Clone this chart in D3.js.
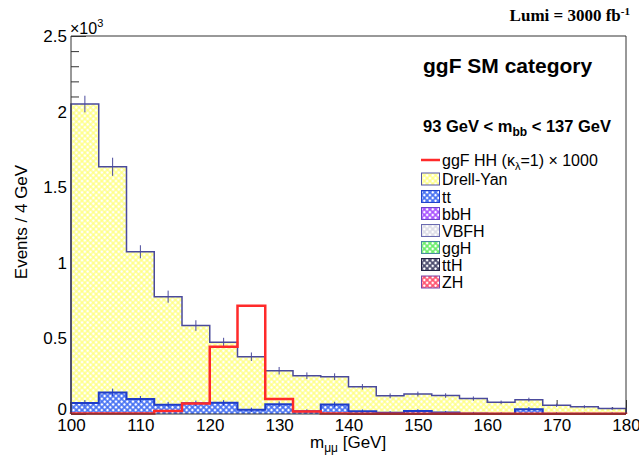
<!DOCTYPE html>
<html>
<head>
<meta charset="utf-8">
<script src="https://cdn.jsdelivr.net/npm/d3@7/dist/d3.min.js"></script>
<style>
  html, body { margin: 0; padding: 0; background: #fff; }
  svg { display: block; font-family: Arial, "Liberation Sans", Helvetica, sans-serif; }
</style>
</head>
<body>
<svg id="chart" width="639" height="456"></svg>
<script>
// ---- data ----
const binLow = [100,104,108,112,116,120,124,128,132,136,140,144,148,152,156,160,164,168,172,176];
const binWidth = 4;
const drellYan = [1978,1492,974,714,514,400,351,221,234,184,162,112,112,112,98,75,63,56,47,35];
const ttbar    = [72,143,99,62,71,74,28,65,19,63,18,8,20,10,4,2,32,2,1,1];
const totalErr = [55,60,43,40,35,30,28,25,22,22,18,16,16,15,14,12,13,11,10,9];
const ttErr    = [20,25,20,18,18,18,14,18,12,18,12,10,12,10,10,10,14,10,10,10];
const hhSignal = [4,4,4,20,70,445,716,100,16,3,2,2,2,2,2,2,2,2,2,2];
const yMajorTicks = [0,500,1000,1500,2000,2500];
const yTickLabels = ["0","0.5","1","1.5","2","2.5"];
const xMajorTicks = [100,110,120,130,140,150,160,170,180];
const legendNames = ["ggF HH (\u03BA\u03BB=1) \u00D7 1000","Drell-Yan","tt","bbH","VBFH","ggH","ttH","ZH"];
const legendColors = ["#ff2a2a","#ffff7a","#3f6cf2","#a64dff","#dcdce6","#66ee66","#444466","#ff4d6a"];
const legendBorders = ["#ff2a2a","#5656a8","#2244cc","#6a44cc","#6a6ab0","#4a8aa0","#222244","#7a44aa"];

// ---- layout ----
const svg = d3.select("#chart");
const x = d3.scaleLinear().domain([100,180]).range([71,626]);
const y = d3.scaleLinear().domain([0,2500]).range([414,36]);

const defs = svg.append("defs");
function hatch(id, color, hole, h) {
  const p = defs.append("pattern").attr("id", id)
    .attr("patternUnits","userSpaceOnUse").attr("width",4).attr("height",4)
    .attr("patternTransform","rotate(45)");
  p.append("rect").attr("width",4).attr("height",4).attr("fill",color);
  p.append("rect").attr("x",(4-h)/2).attr("y",(4-h)/2).attr("width",h).attr("height",h).attr("fill",hole);
}
legendColors.forEach((c,i) => hatch("pat"+i, c, "#ffffff", i === 1 ? 2.7 : 2.4));

// ---- axes (drawn first, fills go on top like ROOT) ----
const yMinor = d3.range(0, 2501, 100);
svg.append("g").attr("transform",`translate(${x(100)},0)`)
  .call(d3.axisRight(y).tickValues(yMinor).tickSize(8).tickFormat(""))
  .call(g => g.select(".domain").remove())
  .call(g => g.selectAll("line").attr("stroke","#333"));
const yAxis = svg.append("g").attr("transform",`translate(${x(100)},0)`)
  .call(d3.axisRight(y).tickValues(yMajorTicks).tickSize(15).tickFormat((d,i)=>yTickLabels[i]))
  .call(g => g.select(".domain").remove());
yAxis.selectAll("line").attr("stroke","#333");
yAxis.selectAll("text").attr("x",-4).attr("text-anchor","end").attr("font-size",17)
  .attr("fill","#000").attr("font-family","Arial, 'Liberation Sans', sans-serif");
yAxis.selectAll("text").filter(d => d === 0).attr("dy","0.05em");

const xMinor = d3.range(100, 181, 2);
svg.append("g").attr("transform",`translate(0,${y(0)})`)
  .call(d3.axisTop(x).tickValues(xMinor).tickSize(7).tickFormat(""))
  .call(g => g.select(".domain").remove())
  .call(g => g.selectAll("line").attr("stroke","#333"));
const xAxis = svg.append("g").attr("transform",`translate(0,${y(0)})`)
  .call(d3.axisTop(x).tickValues(xMajorTicks).tickSize(14).tickFormat(d3.format("d")))
  .call(g => g.select(".domain").remove());
xAxis.selectAll("line").attr("stroke","#333");
xAxis.selectAll("text").attr("y",17).attr("dy","0").attr("font-size",17).attr("fill","#000")
  .attr("font-family","Arial, 'Liberation Sans', sans-serif");

// ---- stacked histogram ----
const rows = binLow.map((b,i) => ({lo:b, dy:drellYan[i], tt:ttbar[i]}));
const stack = d3.stack().keys(["tt","dy"])(rows);
function stepPts(layer) {
  const pts = layer.map((d,i) => ({xv: binLow[i], y0: d[0], y1: d[1]}));
  const last = layer[layer.length-1];
  pts.push({xv: binLow[binLow.length-1]+binWidth, y0: last[0], y1: last[1]});
  return pts;
}
const area = d3.area().curve(d3.curveStepAfter)
  .x(d => x(d.xv)).y0(d => y(0)).y1(d => y(d.y1));

// Drell-Yan (total) fill
const totPts = stepPts(stack[1]);
svg.append("path").attr("d", area(totPts)).attr("fill","url(#pat1)");
// tt fill over white
const ttPts = stepPts(stack[0]);
svg.append("path").attr("d", area(ttPts)).attr("fill","#ffffff");
svg.append("path").attr("d", area(ttPts)).attr("fill","url(#pat2)");

const stepLine = d3.line().curve(d3.curveStepAfter).x(d => x(d.xv)).y(d => y(d.v));
function outlinePts(vals) {
  const pts = [{xv:100, v:0}];
  vals.forEach((v,i) => pts.push({xv: binLow[i], v}));
  pts.push({xv: 180, v: vals[vals.length-1]});
  pts.push({xv: 180, v: 0});
  return pts;
}
// tt outline
svg.append("path").attr("d", stepLine(outlinePts(stack[0].map(d=>d[1]))))
  .attr("fill","none").attr("stroke","#1f3cc8").attr("stroke-width",2);
// tt error bars
svg.append("g").selectAll("line").data(ttbar).join("line")
  .attr("x1",(d,i)=>x(binLow[i]+binWidth/2)).attr("x2",(d,i)=>x(binLow[i]+binWidth/2))
  .attr("y1",(d,i)=>y(Math.max(0,d-ttErr[i]))).attr("y2",(d,i)=>y(d+ttErr[i]))
  .attr("stroke","#1f3cc8").attr("stroke-width",1);

// total outline
const totals = stack[1].map(d=>d[1]);
svg.append("path").attr("d", stepLine(outlinePts(totals)))
  .attr("fill","none").attr("stroke","#4a4a9c").attr("stroke-width",1.5);
// total error bars
svg.append("g").selectAll("line").data(totals).join("line")
  .attr("x1",(d,i)=>x(binLow[i]+binWidth/2)).attr("x2",(d,i)=>x(binLow[i]+binWidth/2))
  .attr("y1",(d,i)=>y(d-totalErr[i])).attr("y2",(d,i)=>y(d+totalErr[i]))
  .attr("stroke","#4a4a9c").attr("stroke-width",1);

// signal (HH x 1000)
svg.append("path").attr("d", stepLine(outlinePts(hhSignal)))
  .attr("fill","none").attr("stroke","#ff2a2a").attr("stroke-width",2.5);

// ---- frame ----
svg.append("line").attr("x1",x(100)).attr("x2",x(180)).attr("y1",y(2500)).attr("y2",y(2500)).attr("stroke","#333");
svg.append("line").attr("x1",x(180)).attr("x2",x(180)).attr("y1",y(2500)).attr("y2",y(0)).attr("stroke","#333");
svg.append("line").attr("x1",x(100)).attr("x2",x(100)).attr("y1",y(2500)).attr("y2",y(0)).attr("stroke","#333");
svg.append("line").attr("x1",x(100)).attr("x2",x(180)).attr("y1",y(0)).attr("y2",y(0)).attr("stroke","#333");

// ---- texts ----
const t10 = svg.append("text").attr("x",70).attr("y",34).attr("font-size",16).attr("fill","#000");
t10.append("tspan").text("\u00D710");
t10.append("tspan").attr("font-size",11).attr("dy",-7).text("3");

svg.append("text").attr("transform","translate(27,222) rotate(-90)").attr("text-anchor","middle")
  .attr("font-size",17).attr("fill","#000").text("Events / 4 GeV");

const xt = svg.append("text").attr("x",310).attr("y",448).attr("font-size",17).attr("fill","#000");
xt.append("tspan").text("m");
xt.append("tspan").attr("font-size",12).attr("dy",4).text("\u03BC\u03BC");
xt.append("tspan").attr("dy",-4).text(" [GeV]");

const lumi = svg.append("text").attr("x",630).attr("y",21).attr("text-anchor","end")
  .attr("font-family","'Liberation Serif','Times New Roman',serif").attr("font-weight","bold")
  .attr("font-size",17).attr("fill","#000");
lumi.append("tspan").text("Lumi = 3000 fb");
lumi.append("tspan").attr("font-size",11).attr("dy",-6).text("-1");

svg.append("text").attr("x",423).attr("y",73).attr("font-size",21).attr("font-weight","bold")
  .attr("fill","#000").text("ggF SM category");

const cut = svg.append("text").attr("x",423).attr("y",132).attr("font-size",16.5).attr("font-weight","bold").attr("fill","#000");
cut.append("tspan").text("93 GeV < m");
cut.append("tspan").attr("font-size",12).attr("dy",4).text("bb");
cut.append("tspan").attr("dy",-4).text(" < 137 GeV");

// ---- legend ----
const legY = [160,179,196.5,213.5,230.5,247.5,264.5,282];
const leg = svg.append("g");
legendNames.forEach((name,i) => {
  const cy = legY[i];
  if (i === 0) {
    leg.append("line").attr("x1",421).attr("x2",440).attr("y1",cy).attr("y2",cy)
      .attr("stroke",legendColors[0]).attr("stroke-width",2.5);
  } else {
    leg.append("rect").attr("x",421.5).attr("y",cy-6).attr("width",18).attr("height",12)
      .attr("fill","url(#pat"+i+")").attr("stroke",legendBorders[i]).attr("stroke-width",1);
  }
  const tx = leg.append("text").attr("x",442).attr("y",cy+6).attr("font-size",16).attr("fill","#000");
  if (i === 0) {
    tx.append("tspan").text("ggF HH (\u03BA");
    tx.append("tspan").attr("font-size",11).attr("dy",4).text("\u03BB");
    tx.append("tspan").attr("dy",-4).text("=1) \u00D7 1000");
  } else {
    tx.text(name);
  }
});
</script>
</body>
</html>
